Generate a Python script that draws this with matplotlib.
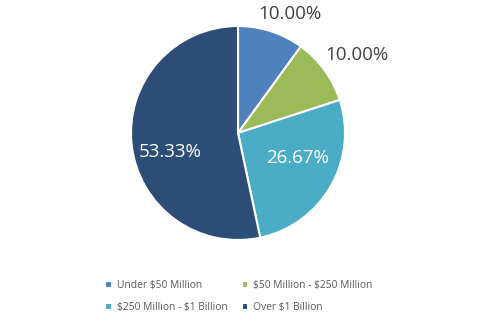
import matplotlib.pyplot as plt

labels = ["Under \\$50 Million", "\\$50 Million - \\$250 Million",
          "\\$250 Million - \\$1 Billion", "Over \\$1 Billion"]
shares = [10.00, 10.00, 26.67, 53.33]
colors = ["#4F81BD", "#9BBB59", "#4BACC6", "#2C4D75"]

plt.rcParams["font.family"] = ["Open Sans", "DejaVu Sans"]

fig = plt.figure(figsize=(4.84, 3.23), dpi=100)
ax = fig.add_axes([0, 0, 1, 1])

cx, cy, r = 238, 323 - 133, 107
wedges, texts, autotexts = ax.pie(
    shares,
    colors=colors,
    startangle=90,
    counterclock=False,
    center=(cx, cy),
    radius=r,
    autopct="%.2f%%",
    wedgeprops=dict(edgecolor="white", linewidth=1.5),
    frame=True,
)
ax.set_xlim(0, 484)
ax.set_ylim(0, 323)
ax.set_aspect("equal")
ax.axis("off")

# label offsets from pie centre, in pixels
offsets = [(52, 119), (119, 78), (60, -25), (-68, -19)]
text_colors = ["#404040", "#404040", "white", "white"]
for t, (dx, dy), c in zip(autotexts, offsets, text_colors):
    t.set_position((cx + dx, cy + dy))
    t.set_color(c)
    t.set_fontsize(13.5)
    t.set_ha("center")
    t.set_va("center")

# legend is filled row by row in the reference
order = [0, 2, 1, 3]
leg = ax.legend(
    [wedges[i] for i in order], [labels[i] for i in order],
    ncol=2,
    loc="upper left",
    bbox_to_anchor=(0.207, 0.148),
    frameon=False,
    fontsize=7.4,
    handlelength=0.65,
    handleheight=0.65,
    handletextpad=0.45,
    columnspacing=1.4,
    labelspacing=1.05,
    labelcolor="#595959",
    borderpad=0,
)

fig.savefig("out.png", dpi=100)
